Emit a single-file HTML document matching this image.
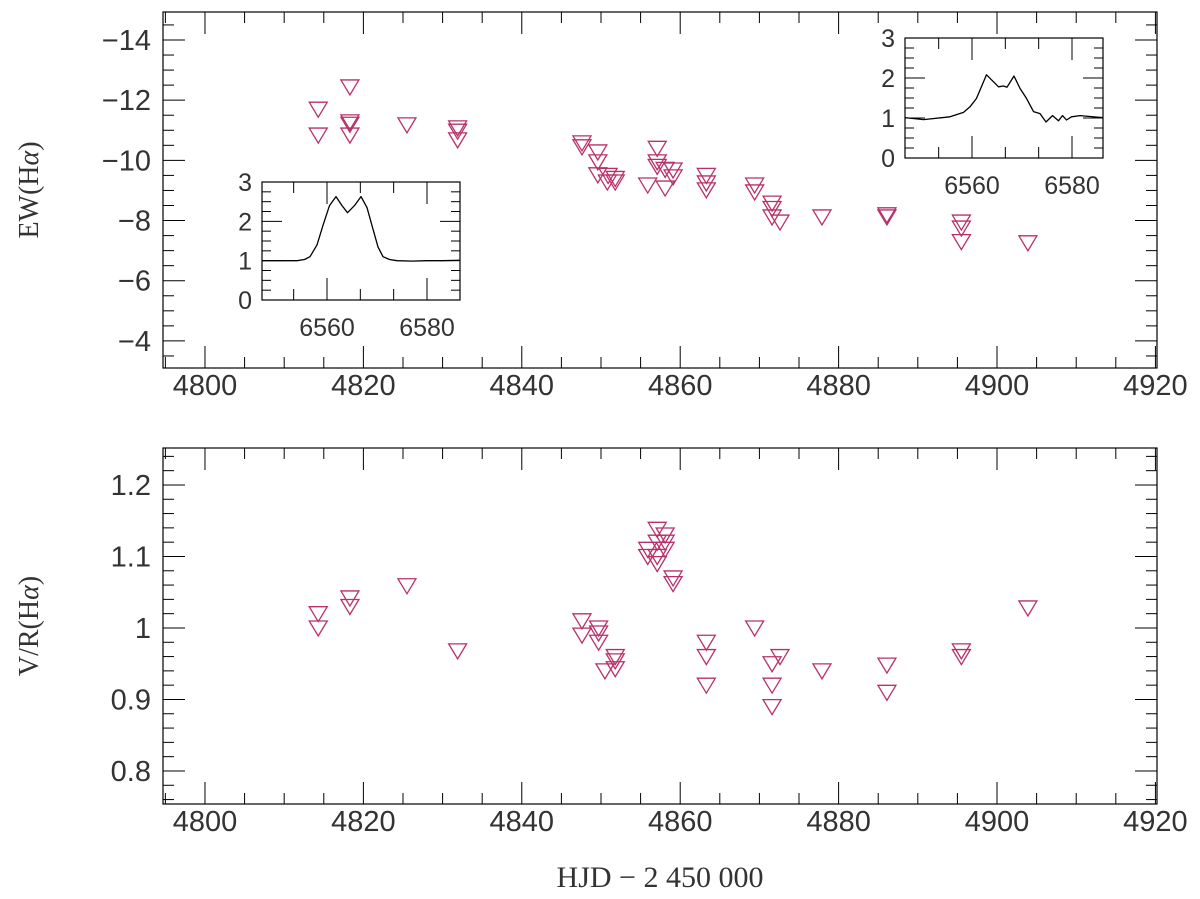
<!DOCTYPE html>
<html><head><meta charset="utf-8"><style>
body{margin:0;background:#fff;}
svg{display:block;font-family:"Liberation Sans",sans-serif;}
</style></head><body>
<svg id="c" width="1200" height="899" xmlns="http://www.w3.org/2000/svg"></svg>
<script>
// Data
const ewDays=[14.3,14.3,18.3,18.3,18.3,18.3,25.5,31.9,31.9,31.9,47.6,47.6,49.6,49.6,49.6,50.8,50.9,51.8,51.8,55.9,57.1,57.1,57.1,58.1,58.1,59.1,59.1,63.3,63.3,63.3,69.4,69.4,71.6,71.6,71.6,72.6,77.9,86.1,86.1,95.5,95.5,95.5,103.9];
const ewValues=[-11.7,-10.84,-12.44,-11.28,-11.2,-10.84,-11.18,-11.08,-10.97,-10.68,-10.58,-10.45,-10.28,-9.95,-9.52,-9.28,-9.5,-9.4,-9.28,-9.18,-10.4,-9.95,-9.8,-9.7,-9.08,-9.68,-9.45,-9.5,-9.25,-9.02,-9.18,-8.95,-8.58,-8.4,-8.12,-7.95,-8.12,-8.19,-8.12,-7.95,-7.75,-7.3,-7.26];
const vrDays=[14.3,14.3,18.3,18.3,25.5,31.9,47.6,47.6,49.7,49.7,49.7,51.8,51.8,51.8,50.5,57.1,58.1,57.1,58.1,55.9,58.1,57.1,55.9,57.1,59.1,59.1,63.3,63.3,63.3,69.4,71.6,71.6,71.6,72.6,77.9,86.1,86.1,95.5,95.5,103.9];
const vrValues=[1.02,1.0,1.042,1.03,1.059,0.968,1.01,0.99,1.0,0.993,0.98,0.96,0.954,0.943,0.94,1.138,1.13,1.12,1.12,1.11,1.11,1.10,1.10,1.09,1.07,1.062,0.98,0.96,0.92,1.0,0.95,0.92,0.89,0.96,0.94,0.948,0.91,0.968,0.96,1.028];
const xTicks=[4800,4820,4840,4860,4880,4900,4920];
const ewTicks=[-14,-12,-10,-8,-6,-4];
const vrTicks=[0.8,0.9,1,1.1,1.2];
const inset1Wave=[6546,6550,6554,6555.5,6556.6,6558,6559.2,6560.5,6561.8,6563,6564.1,6565.5,6566.8,6568,6569.2,6570.2,6571.2,6572.5,6574,6577,6580,6583,6587];
const inset1Flux=[1.0,1.0,1.0,1.03,1.1,1.4,1.9,2.4,2.63,2.4,2.22,2.4,2.63,2.35,1.8,1.35,1.1,1.03,1.0,0.99,1.0,1.0,1.01];
const inset2Wave=[6546.6,6550.3,6555.6,6558.3,6559.6,6560.9,6562.9,6565.3,6566.3,6567.0,6568.4,6569.6,6570.9,6572.3,6573.6,6574.8,6576.1,6577.3,6578.1,6578.9,6579.9,6581.6,6586.3];
const inset2Flux=[1.01,0.96,1.03,1.14,1.28,1.49,2.08,1.78,1.80,1.77,2.05,1.74,1.49,1.16,1.11,0.90,1.06,0.93,1.06,0.95,1.03,1.06,1.01];

const svg=document.getElementById('c');
const NS='http://www.w3.org/2000/svg';
function mk(tag,attrs,parent){const e=document.createElementNS(NS,tag);for(const k in attrs)e.setAttribute(k,attrs[k]);(parent||svg).appendChild(e);return e;}
const TXT='#333';

const X0=163,X1=1157,D0=4794.7,D1=4920.2;
const xs=d=>X0+(d-D0)/(D1-D0)*(X1-X0);

function panel(name,yTop,yBot,v0,v1,yTicks,minorStep,fmt,ylab){
  const ys=v=>yTop+(v-v0)/(v1-v0)*(yBot-yTop);
  const g=mk('g',{});
  
  
  mk('rect',{x:X0,y:yTop,width:X1-X0,height:yBot-yTop,fill:'none',stroke:'#000','stroke-width':1.2},g);
  for(let d=4795;d<=4920;d+=5){const x=xs(d);const L=d%20===0?22:11;
    mk('line',{x1:x,y1:yBot,x2:x,y2:yBot-L,stroke:'#000'},g);mk('line',{x1:x,y1:yTop,x2:x,y2:yTop+L,stroke:'#000'},g);}
  const lo=Math.min(v0,v1),hi=Math.max(v0,v1);
  for(let v=Math.ceil(lo/minorStep-1e-6)*minorStep;v<=hi+1e-9;v+=minorStep){const y=ys(v);
    const maj=yTicks.some(t=>Math.abs(t-v)<1e-6);const L=maj?22:11;
    mk('line',{x1:X0,y1:y,x2:X0+L,y2:y,stroke:'#000'},g);mk('line',{x1:X1,y1:y,x2:X1-L,y2:y,stroke:'#000'},g);}
  xTicks.forEach(t=>{const e=mk('text',{x:xs(t),y:yBot+27,'font-size':29,fill:TXT,'text-anchor':'middle'},g);e.textContent=t;
    });
  yTicks.forEach(t=>{const e=mk('text',{x:X0-12,y:ys(t)+10,'font-size':29,fill:TXT,'text-anchor':'end'},g);e.textContent=fmt(t);
    });
  const yl=mk('text',{x:0,y:0,'font-size':28,fill:TXT,'text-anchor':'middle','font-family':'Liberation Serif, serif',transform:`translate(38,${(yTop+yBot)/2}) rotate(-90)`},g);
  yl.innerHTML=ylab;
  
  return ys;
}
function tri(x,y,name){const p=mk('polygon',{points:`${x-9},${y-7} ${x+9},${y-7} ${x},${y+8}`,fill:'none',stroke:'#b8306a','stroke-width':1.3});
  }

const ysTop=panel('ew-panel',12,368,-14.93,-3.1,ewTicks,0.5,t=>'\u2212'+Math.abs(t),'EW(H<tspan font-style="italic">α</tspan>)');
ewDays.forEach((d,i)=>tri(xs(4800+d),ysTop(ewValues[i]),'ew-point'));
const ysBot=panel('vr-panel',448,804,1.2517,0.7538,vrTicks,0.02,t=>String(t),'V/R(H<tspan font-style="italic">α</tspan>)');
vrDays.forEach((d,i)=>tri(xs(4800+d),ysBot(vrValues[i]),'vr-point'));

const xt=mk('text',{x:660,y:887,'font-size':30,fill:TXT,'text-anchor':'middle','font-family':'Liberation Serif, serif'});
xt.textContent='HJD  \u2212  2 450 000';


function inset(name,L,T,R,B,p6560,wave,flux){
  const g=mk('g',{});
  
  mk('rect',{x:L,y:T,width:R-L,height:B-T,fill:'#fff',stroke:'#000','stroke-width':1.2},g);
  const sx=w=>p6560+(w-6560)*5;const sy=f=>B-f/3*(B-T);
  for(let k=-1;k<=3;k++){const x=sx(6560+k*20/3);const L2=(k===0||k===3)?22:11;
    mk('line',{x1:x,y1:B,x2:x,y2:B-L2,stroke:'#000'},g);mk('line',{x1:x,y1:T,x2:x,y2:T+L2,stroke:'#000'},g);}
  for(let f=0;f<=3.001;f+=0.25){const maj=Math.abs(f-Math.round(f))<1e-6;const L2=maj?20:9;
    if(f>0&&f<3){mk('line',{x1:L,y1:sy(f),x2:L+L2,y2:sy(f),stroke:'#000'},g);mk('line',{x1:R,y1:sy(f),x2:R-L2,y2:sy(f),stroke:'#000'},g);}}
  [0,1,2,3].forEach(f=>{const e=mk('text',{x:L-10,y:sy(f)+9,'font-size':25,fill:TXT,'text-anchor':'end'},g);e.textContent=f;
    });
  [6560,6580].forEach(w=>{const e=mk('text',{x:sx(w),y:B+36,'font-size':25,fill:TXT,'text-anchor':'middle'},g);e.textContent=w;
    });
  const pts=wave.map((w,i)=>Math.max(L,Math.min(R,sx(w))).toFixed(1)+','+sy(flux[i]).toFixed(1)).join(' ');
  const pl=mk('polyline',{points:pts,fill:'none',stroke:'#000','stroke-width':1.3,'stroke-linejoin':'round'},g);
  
}
inset('inset-profile-left',262,182,460,300,327,inset1Wave,inset1Flux);
inset('inset-profile-right',905,38,1103,158,972,inset2Wave,inset2Flux);
</script>
</body></html>
